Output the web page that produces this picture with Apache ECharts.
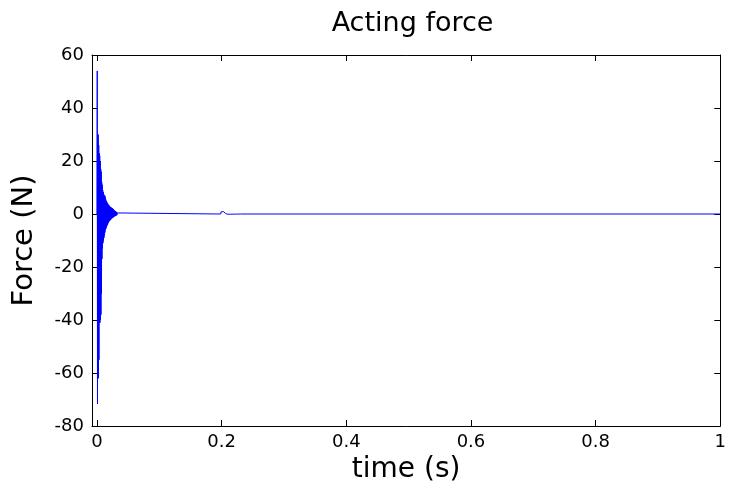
<!DOCTYPE html>
<html>
<head>
<meta charset="utf-8">
<title>Acting force</title>
<script src="https://cdn.jsdelivr.net/npm/echarts@6/dist/echarts.min.js"></script>
<style>
  html, body { margin: 0; padding: 0; background: #ffffff; }
  #chart { width: 729px; height: 495px; }
</style>
</head>
<body>
<div id="chart"></div>
<script>
// Sampled force response: impact transient near t = 0 and a small disturbance near t = 0.2 s
const timeS = [
  0, 0.0004, 0.0008, 0.0012, 0.0016, 0.0020, 0.0024, 0.0028, 0.0032, 0.0036,
  0.0040, 0.0044, 0.0048, 0.0052, 0.0056, 0.0060, 0.0064, 0.0068, 0.0072, 0.0076,
  0.0080, 0.0084, 0.0088, 0.0092, 0.0096, 0.0100, 0.0104, 0.0108, 0.0112, 0.0116,
  0.0120, 0.0124, 0.0128, 0.0132, 0.0136, 0.0140, 0.0144, 0.0148, 0.0152, 0.0156,
  0.0160, 0.0164, 0.0168, 0.0172, 0.0176, 0.0180, 0.0184, 0.0188, 0.0192, 0.0196,
  0.0200, 0.0204, 0.0208, 0.0212, 0.0216, 0.0220, 0.0224, 0.0228, 0.0232, 0.0236,
  0.0240, 0.0244, 0.0248, 0.0252, 0.0256, 0.0260, 0.0264, 0.0268, 0.0272, 0.0276,
  0.0280, 0.0284, 0.0288, 0.0292, 0.0296, 0.0300, 0.0304, 0.0308, 0.0312, 0.0316,
  0.0320, 0.0324, 0.0328, 0.0332, 0.0336, 0.0340,
  0.1985, 0.1990, 0.2000, 0.2030, 0.2055, 0.2065, 0.2080, 0.2100, 0.2120, 0.2140,
  0.2160, 0.2180, 0.2200, 0.2220, 0.2240, 0.2260, 0.2280, 0.2300,
  1.0
];
const forceN = [
  0, 54, -71.7, 28, -45, 30, -62, 26, -55, 23,
  -41, 22, -41, 20, -40, 17, -38, 16, -30, 12,
  -17, 11, -13, 9, -11, 8.3, -10, 7.5, -9, 7,
  -8, 7, -7, 6.5, -6, 5.5, -5.5, 5, -5, 4.6,
  -4.5, 4.2, -4, 3.9, -3.6, 3.6, -3.2, 3.4, -2.9, 3.1,
  -2.6, 2.9, -2.4, 2.7, -2.2, 2.5, -2.0, 2.4, -1.8, 2.3,
  -1.6, 2.2, -1.5, 2.0, -1.3, 1.8, -1.2, 1.6, -1.0, 1.4,
  -0.9, 1.2, -0.8, 1.1, -0.7, 1.0, -0.6, 0.8, -0.5, 0.6,
  -0.4, 0.4, -0.3, 0.2, -0.1, 0,
  0, 0.8, 1.0, 0.9, 0.6, 0.15, 0.3, -0.1, 0.25, -0.08,
  0.2, -0.06, 0.15, -0.05, 0.1, -0.03, 0.05, 0,
  0
];

// Axis ticks
const xTicks = [0, 0.2, 0.4, 0.6, 0.8, 1];
const yTicks = [-80, -60, -40, -20, 0, 20, 40, 60];

const FONT = 'DejaVu Sans';
const chart = echarts.init(document.getElementById('chart'), null, { renderer: 'canvas' });

const series = timeS.map((t, i) => [t, forceN[i]]);

const grid = { left: 92, right: 6, top: 55, bottom: 69 };
const plotCenterX = grid.left + (729 - grid.left - grid.right) / 2;

const xRange = { min: -0.008, max: 1 };
const yRange = { min: -80, max: 60, interval: 20 };
const lineStyle = { color: '#000000', width: 1 };

chart.setOption({
  animation: false,
  backgroundColor: '#ffffff',
  title: {
    text: 'Acting force',
    left: plotCenterX,
    textAlign: 'center',
    top: 5,
    textStyle: { fontFamily: FONT, fontSize: 27, fontWeight: 'normal', color: '#000000' }
  },
  grid: grid,
  xAxis: [
    {
      type: 'value', position: 'bottom', ...xRange,
      name: 'time (s)', nameLocation: 'middle', nameGap: 28,
      nameTextStyle: { fontFamily: FONT, fontSize: 28, color: '#000000' },
      axisLine: { show: true, onZero: false, lineStyle },
      axisTick: { show: true, inside: true, length: 6, lineStyle, customValues: xTicks },
      axisLabel: { show: true, margin: 7, fontFamily: FONT, fontSize: 18, color: '#000000',
                   customValues: xTicks, formatter: v => String(+v.toFixed(1)) },
      splitLine: { show: false }
    },
    {
      type: 'value', position: 'top', ...xRange,
      axisLine: { show: true, onZero: false, lineStyle },
      axisTick: { show: true, inside: true, length: 6, lineStyle, customValues: xTicks },
      axisLabel: { show: false },
      splitLine: { show: false }
    }
  ],
  yAxis: [
    {
      type: 'value', position: 'left', ...yRange,
      name: 'Force (N)', nameLocation: 'middle', nameGap: 53,
      nameTextStyle: { fontFamily: FONT, fontSize: 29, color: '#000000' },
      axisLine: { show: true, onZero: false, lineStyle },
      axisTick: { show: true, inside: true, length: 6, lineStyle },
      axisLabel: { show: true, margin: 8, fontFamily: FONT, fontSize: 18, color: '#000000',
                   customValues: yTicks },
      splitLine: { show: false }
    },
    {
      type: 'value', position: 'right', ...yRange,
      axisLine: { show: true, onZero: false, lineStyle },
      axisTick: { show: true, inside: true, length: 6, lineStyle },
      axisLabel: { show: false },
      splitLine: { show: false }
    }
  ],
  series: [{
    type: 'line',
    xAxisIndex: 0,
    yAxisIndex: 0,
    data: series,
    showSymbol: false,
    symbol: 'none',
    sampling: null,
    lineStyle: { color: '#0000ff', width: 1 },
    emphasis: { disabled: true }
  }]
});
</script>
</body>
</html>
